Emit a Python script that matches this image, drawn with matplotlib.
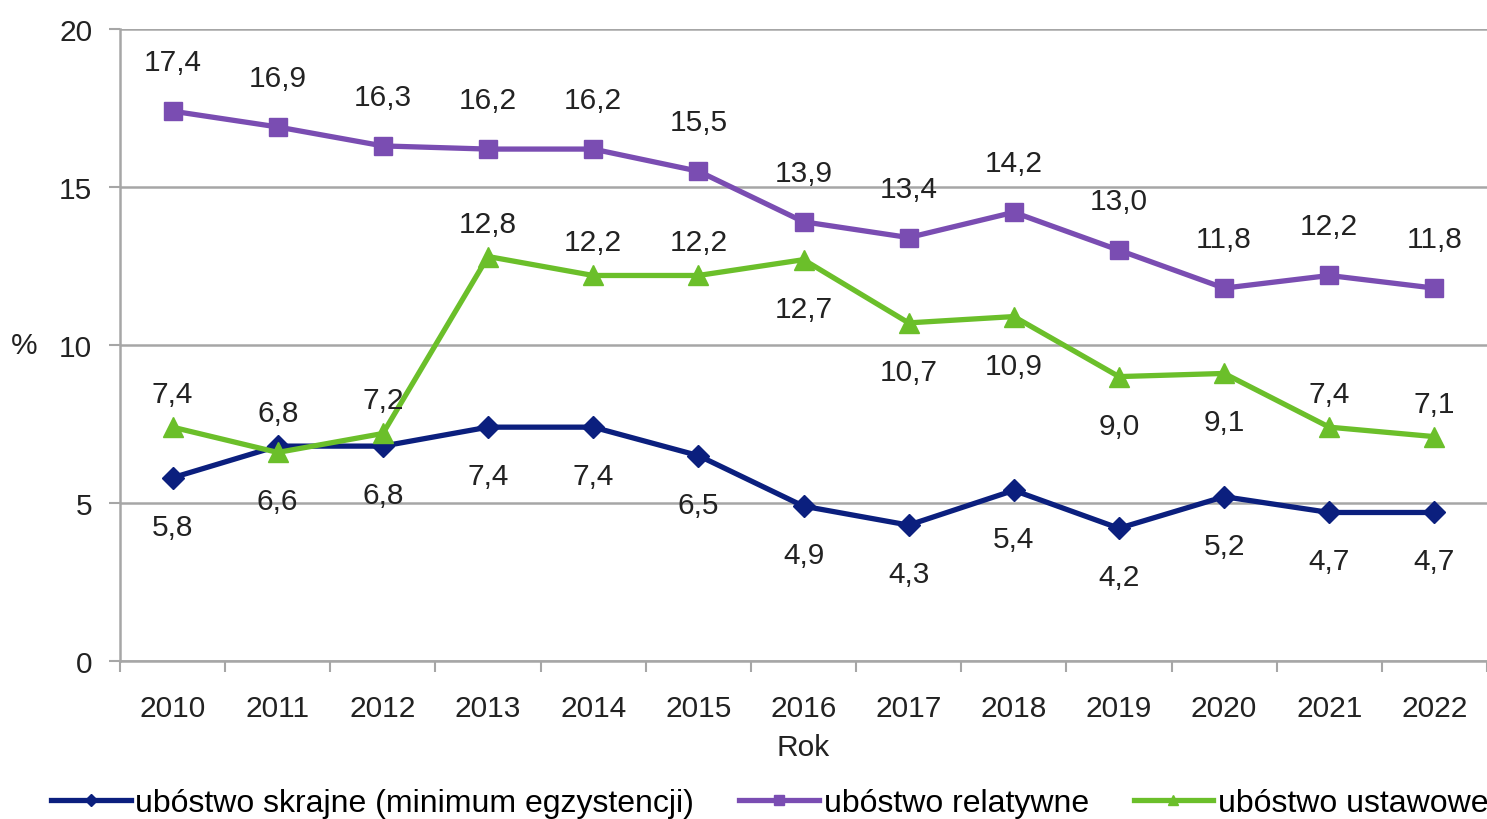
import matplotlib
matplotlib.use('Agg')
import matplotlib.pyplot as plt
import numpy as np

# Data
years = ['2010', '2011', '2012', '2013', '2014', '2015', '2016',
         '2017', '2018', '2019', '2020', '2021', '2022']
skrajne = [5.8, 6.8, 6.8, 7.4, 7.4, 6.5, 4.9, 4.3, 5.4, 4.2, 5.2, 4.7, 4.7]
relatywne = [17.4, 16.9, 16.3, 16.2, 16.2, 15.5, 13.9, 13.4, 14.2, 13.0, 11.8, 12.2, 11.8]
ustawowe = [7.4, 6.6, 7.2, 12.8, 12.2, 12.2, 12.7, 10.7, 10.9, 9.0, 9.1, 7.4, 7.1]

names = ['ubóstwo skrajne (minimum egzystencji)', 'ubóstwo relatywne', 'ubóstwo ustawowe']

# label placement: 1 = above the point, -1 = below
pos_skrajne = [-1, 1, -1, -1, -1, -1, -1, -1, -1, -1, -1, -1, -1]
pos_relatywne = [1] * 13
pos_ustawowe = [1, -1, 1, 1, 1, 1, -1, -1, -1, -1, -1, 1, 1]

plt.rcParams['font.family'] = ['Liberation Sans', 'DejaVu Sans']
plt.rcParams['font.size'] = 21.5

navy = '#0b1f7e'
purple = '#7a4db2'
green = '#6bbf2a'
grid_c = '#a6a6a6'
text_c = '#222222'

fig = plt.figure(figsize=(14.87, 8.2), dpi=100)
ax = fig.add_axes([120 / 1487, 1 - 662 / 820, 1 - 120 / 1487, (662 - 30) / 820])

x = np.arange(len(years))

series = [
    (skrajne, pos_skrajne, navy, 'D', 11),
    (relatywne, pos_relatywne, purple, 's', 13),
    (ustawowe, pos_ustawowe, green, '^', 14),
]

handles = []
for (vals, pos, col, mk, ms), nm in zip(series, names):
    h, = ax.plot(x, vals, color=col, lw=3.8, marker=mk, markersize=ms,
                 label=nm, zorder=3)
    handles.append(h)
    for xi, v, p in zip(x, vals, pos):
        off = 49 if p > 0 else -49
        if col != purple and p > 0:
            off = 33
        ax.annotate(f'{v:.1f}'.replace('.', ','), (xi, v),
                    xytext=(0, off), textcoords='offset pixels',
                    ha='center', va='center', color=text_c, zorder=4)

ax.set_xlim(-0.5, 12.45)
ax.set_ylim(0, 20)
ax.set_yticks([0, 5, 10, 15, 20])
ax.set_xticks(x)
ax.set_xticklabels(years)
ax.set_xticks(np.arange(-0.5, 12.6, 1), minor=True)
ax.tick_params(axis='x', which='major', length=0, pad=24, colors=text_c)
ax.tick_params(axis='x', which='minor', length=8, width=1.5, color=grid_c, direction='out')
ax.tick_params(axis='y', length=8, width=1.5, color=grid_c, pad=12, labelcolor=text_c)

ax.yaxis.grid(True, color=grid_c, lw=1.8)
ax.set_axisbelow(True)
for s in ['top', 'right']:
    ax.spines[s].set_visible(False)
for s in ['left', 'bottom']:
    ax.spines[s].set_color(grid_c)
    ax.spines[s].set_linewidth(1.8)

ax.set_xlabel('Rok', color=text_c, labelpad=8)
ax.set_ylabel('%', rotation=0, color=text_c, labelpad=20, va='center')
ax.yaxis.set_label_coords(-0.07, 0.5)

fig.legend(handles=handles, loc='lower left', bbox_to_anchor=(38 / 1487, -0.014),
           ncol=3, frameon=False, handlelength=2.5, handletextpad=0.15,
           columnspacing=1.4, markerscale=0.55, borderaxespad=0,
           prop={'size': 23})

fig.savefig('out.png', dpi=100)
